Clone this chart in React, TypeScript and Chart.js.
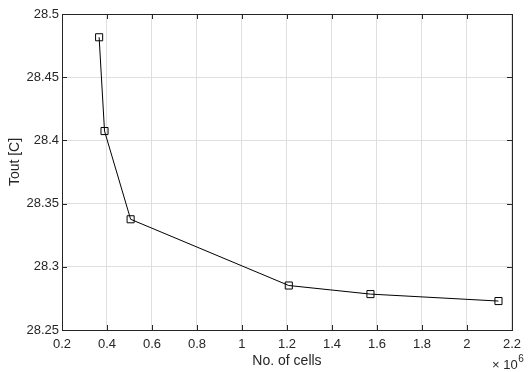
import React, { useEffect, useRef } from "react";
import { Chart, registerables } from "chart.js";

Chart.register(...registerables);

// Number of cells (in units of 10^6)
const cells: number[] = [0.365, 0.389, 0.505, 1.208, 1.571, 2.14];
// Outlet temperature [C]
const tout: number[] = [28.4816, 28.4074, 28.3376, 28.2852, 28.2784, 28.2729];

const xTitle = "No. of cells";
const yTitle = "Tout [C]";
const xExponent = "6";

const FONT = "'Liberation Sans', Arial, Helvetica, sans-serif";
const AXIS_COLOR = "#262626";
const GRID_COLOR = "#dfdfdf";

const fmt = (v: number | string) => String(Number(Number(v).toFixed(4)));

const boxPlugin = {
  id: "matlabBox",
  afterDatasetsDraw(chart: any) {
    const { ctx, chartArea } = chart;
    const { left, right, top, bottom } = chartArea;
    const xs = chart.scales.x;
    const ys = chart.scales.y;
    const tl = 5;
    ctx.save();
    ctx.strokeStyle = AXIS_COLOR;
    ctx.lineWidth = 1;
    ctx.beginPath();
    xs.ticks.forEach((t: any) => {
      const px = Math.round(xs.getPixelForValue(t.value)) + 0.5;
      ctx.moveTo(px, bottom);
      ctx.lineTo(px, bottom - tl);
      ctx.moveTo(px, top);
      ctx.lineTo(px, top + tl);
    });
    ys.ticks.forEach((t: any) => {
      const py = Math.round(ys.getPixelForValue(t.value)) + 0.5;
      ctx.moveTo(left, py);
      ctx.lineTo(left + tl, py);
      ctx.moveTo(right, py);
      ctx.lineTo(right - tl, py);
    });
    ctx.stroke();
    ctx.strokeRect(Math.round(left) + 0.5, Math.round(top) + 0.5, Math.round(right - left), Math.round(bottom - top));
    // exponent label
    ctx.fillStyle = AXIS_COLOR;
    ctx.textBaseline = "alphabetic";
    ctx.textAlign = "left";
    ctx.font = `13px ${FONT}`;
    const base = "\u00d7 10";
    const x0 = 492;
    ctx.fillText(base, x0, 369);
    const w = ctx.measureText(base).width;
    ctx.font = `10px ${FONT}`;
    ctx.fillText(xExponent, x0 + w + 0.5, 362);
    // y title
    ctx.save();
    ctx.translate(15, 162);
    ctx.rotate(-Math.PI / 2);
    ctx.textAlign = "center";
    ctx.textBaseline = "middle";
    ctx.font = `14px ${FONT}`;
    ctx.fillText(yTitle, 0, 0);
    ctx.restore();
    ctx.restore();
  },
};

export default function App() {
  const ref = useRef<HTMLCanvasElement | null>(null);
  useEffect(() => {
    if (!ref.current) return;
    const chart = new Chart(ref.current, {
      type: "line",
      data: {
        datasets: [
          {
            data: cells.map((c, i) => ({ x: c, y: tout[i] })),
            borderColor: "#000000",
            borderWidth: 1,
            pointStyle: "rect",
            pointRadius: 5,
            pointBorderWidth: 1,
            pointBorderColor: "#000000",
            pointBackgroundColor: "rgba(0,0,0,0)",
            tension: 0,
            fill: false,
          },
        ],
      },
      options: {
        responsive: false,
        animation: false,
        devicePixelRatio: 1,
        layout: { padding: { left: 0, right: 9, top: 14, bottom: 0 } },
        plugins: { legend: { display: false }, tooltip: { enabled: false } },
        scales: {
          x: {
            type: "linear",
            min: 0.2,
            max: 2.2,
            afterFit: (s: any) => {
              s.height = 42;
            },
            ticks: {
              stepSize: 0.2,
              color: AXIS_COLOR,
              font: { family: FONT, size: 13 },
              padding: 7,
              maxRotation: 0,
              callback: (v: any) => fmt(v),
            },
            grid: { color: GRID_COLOR, drawTicks: false, lineWidth: 1 },
            border: { display: false },
            title: {
              display: true,
              text: xTitle,
              color: AXIS_COLOR,
              font: { family: FONT, size: 14 },
              padding: { top: 0, bottom: 2 },
            },
          },
          y: {
            type: "linear",
            min: 28.25,
            max: 28.5,
            afterFit: (s: any) => {
              s.width = 62;
            },
            ticks: {
              stepSize: 0.05,
              color: AXIS_COLOR,
              font: { family: FONT, size: 13 },
              padding: 3,
              callback: (v: any) => fmt(v),
            },
            grid: { color: GRID_COLOR, drawTicks: false, lineWidth: 1 },
            border: { display: false },
            title: { display: false },
          },
        },
      },
      plugins: [boxPlugin],
    } as any);
    return () => chart.destroy();
  }, []);
  return (
    <div style={{ position: "absolute", left: 0, top: 0, width: 528, height: 372, background: "#ffffff" }}>
      <canvas ref={ref} width={528} height={372} style={{ display: "block" }} />
    </div>
  );
}
